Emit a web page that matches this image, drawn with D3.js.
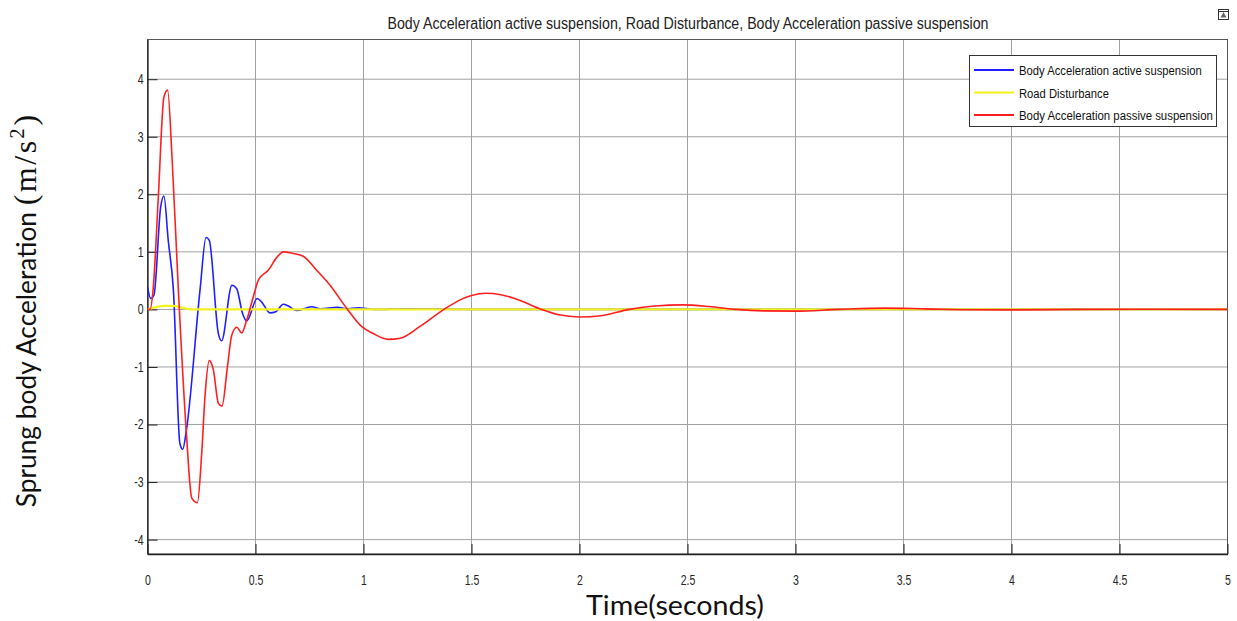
<!DOCTYPE html>
<html><head><meta charset="utf-8">
<script src="https://cdn.jsdelivr.net/npm/d3@7"></script>
<style>
body{margin:0;background:#fff;}
.narrow{font-family:"Liberation Sans",Arial,sans-serif;}
</style></head>
<body>
<svg id="chart" width="1237" height="621"></svg>
<script>
// ---- data ----
const titleText = "Body Acceleration active suspension, Road Disturbance, Body Acceleration passive suspension";
const seriesNames = ["Body Acceleration active suspension","Road Disturbance","Body Acceleration passive suspension"];
const seriesColors = ["#1f1fff","#f2f21e","#ff1f1f"];
const xTicks = [0,0.5,1,1.5,2,2.5,3,3.5,4,4.5,5];
const xTickLabels = ["0","0.5","1","1.5","2","2.5","3","3.5","4","4.5","5"];
const yTicks = [-4,-3,-2,-1,0,1,2,3,4];
const yTickLabels = ["-4","-3","-2","-1","0","1","2","3","4"];

const activeT = [0,0.015,0.03,0.061,0.076,0.096,0.12,0.15,0.163,0.18,0.243,0.271,0.286,0.328,0.343,0.391,0.413,0.44,0.459,0.508,0.528,0.567,0.594,0.629,0.652,0.69,0.76,0.8,0.88,0.92,0.976,1.05,1.2,1.5,2,3,4,5];
const activeY = [0.39,0.19,0.25,1.78,1.97,1.2,0.33,-2.33,-2.43,-2.1,0.33,1.25,1.2,-0.42,-0.545,0.42,0.36,-0.07,-0.2,0.19,0.13,-0.06,-0.04,0.09,0.06,-0.02,0.045,0.01,0.035,0.01,0.03,0.0,0.01,0,0,0,0,0];

const roadT = [0,0.04,0.08,0.12,0.16,0.2,0.3,1,2,3,4,5];
const roadY = [0,0.04,0.06,0.06,0.03,0,0,0,0,0,0,0];

const passiveT = [0,0.012,0.027,0.05,0.076,0.093,0.115,0.143,0.18,0.205,0.231,0.251,0.266,0.286,0.305,0.328,0.345,0.37,0.39,0.413,0.436,0.459,0.498,0.513,0.559,0.598,0.629,0.675,0.721,0.783,0.845,0.922,0.992,1.045,1.115,1.17,1.26,1.373,1.45,1.5,1.567,1.63,1.7,1.824,1.9,2.0,2.1,2.23,2.35,2.478,2.6,2.725,2.85,3.0,3.2,3.415,3.6,3.8,4.0,4.3,4.6,5];
const passiveY = [0,0,0.39,1.95,3.69,3.81,2.53,0.33,-2.15,-3.28,-3.36,-2.5,-1.52,-0.89,-1.05,-1.63,-1.68,-1.0,-0.45,-0.31,-0.41,-0.19,0.33,0.51,0.68,0.9,1.0,0.97,0.925,0.68,0.42,0.02,-0.3,-0.42,-0.52,-0.5,-0.3,0,0.17,0.24,0.28,0.26,0.19,0,-0.09,-0.133,-0.11,0,0.06,0.078,0.05,0,-0.025,-0.03,0,0.022,0.01,-0.005,-0.008,0,0.003,0];

// ---- helpers ----
function squeeze(sel, factor){
  sel.each(function(){
    const w = this.getComputedTextLength();
    d3.select(this).attr("textLength", w*factor).attr("lengthAdjust","spacingAndGlyphs");
  });
}
function fitTo(sel, width){
  sel.attr("textLength", width).attr("lengthAdjust","spacingAndGlyphs");
}

// ---- layout ----
const L = 147.5, R = 1227.5, T = 39.5, B = 554;
const svg = d3.select("#chart");
const x = d3.scaleLinear().domain([0,5]).range([L,R]);
const y = d3.scaleLinear().domain([-4.25,4.69]).range([B,T]);

// grid
const grid = svg.append("g");
grid.selectAll("line.v").data(xTicks).join("line")
  .attr("x1",d=>x(d)).attr("x2",d=>x(d)).attr("y1",T).attr("y2",B)
  .attr("stroke","#a0a0a0").attr("stroke-width",1);
grid.selectAll("line.h").data(yTicks).join("line")
  .attr("x1",L).attr("x2",R).attr("y1",d=>y(d)).attr("y2",d=>y(d))
  .attr("stroke","#a0a0a0").attr("stroke-width",1);

// frame
svg.append("rect").attr("x",L).attr("y",T).attr("width",R-L).attr("height",B-T)
  .attr("fill","none").attr("stroke","#555").attr("stroke-width",1);

// axes
const xAxis = d3.axisBottom(x).tickValues(xTicks).tickFormat((d,i)=>xTickLabels[i]).tickSizeInner(-10).tickSizeOuter(0).tickPadding(21);
const gx = svg.append("g").attr("transform",`translate(0,${B})`).call(xAxis);
const yAxis = d3.axisLeft(y).tickValues(yTicks).tickFormat((d,i)=>yTickLabels[i]).tickSizeInner(-10).tickSizeOuter(0).tickPadding(4);
const gy = svg.append("g").attr("transform",`translate(${L},0)`).call(yAxis);
[gx,gy].forEach(g=>{
  g.select(".domain").attr("stroke","#222").attr("stroke-width",1.3);
  g.selectAll(".tick line").attr("stroke","#222");
  g.selectAll(".tick text").attr("class","narrow").attr("font-size",14).attr("fill","#262626");
  squeeze(g.selectAll(".tick text"), 0.75);
});

// lines
svg.append("clipPath").attr("id","clip").append("rect").attr("x",L).attr("y",T).attr("width",R-L).attr("height",B-T);
const line = d3.line().x(d=>x(d[0])).y(d=>y(d[1])).curve(d3.curveMonotoneX);
const series = [
  d3.zip(activeT,activeY),
  d3.zip(roadT,roadY),
  d3.zip(passiveT,passiveY)
];
const widths = [1.6,2.2,1.6];
const lg = svg.append("g").attr("clip-path","url(#clip)");
series.forEach((s,i)=>{
  lg.append("path").datum(s).attr("d",line).attr("fill","none")
    .attr("stroke",seriesColors[i]).attr("stroke-width",widths[i]).attr("stroke-linejoin","round");
});

// title
const title = svg.append("text").attr("class","narrow").attr("x",688).attr("y",29)
  .attr("text-anchor","middle").attr("font-size",16).attr("fill","#222").text(titleText);
fitTo(title, 601);

// axis labels
const xl = svg.append("text").attr("x",675).attr("y",615).attr("text-anchor","middle")
  .attr("font-family","Lato, 'Open Sans', sans-serif").attr("font-size",26).attr("fill","#111").text("Time(seconds)");
fitTo(xl, 178);
const yl = svg.append("text").attr("transform","translate(36,311) rotate(-90)").attr("text-anchor","middle")
  .attr("font-family","Lato, 'Open Sans', sans-serif").attr("font-size",26.3).attr("fill","#111");
yl.append("tspan").text("Sprung body Acceleration ");
yl.append("tspan").attr("font-family","'Liberation Serif', serif").attr("font-size",32).attr("letter-spacing",2.5).text("(m/s");
yl.append("tspan").attr("font-family","'Liberation Serif', serif").attr("font-size",20).attr("dy",-12).attr("letter-spacing",3).text("2");
yl.append("tspan").attr("font-family","'Liberation Serif', serif").attr("font-size",32).attr("dy",12).text(")");

// legend
const leg = svg.append("g");
leg.append("rect").attr("x",969.5).attr("y",55.5).attr("width",247).attr("height",71)
  .attr("fill","#fff").attr("stroke","#333").attr("stroke-width",1);
const rowY = [70,92.5,115];
const legWidths = [183,90,194];
seriesNames.forEach((n,i)=>{
  leg.append("line").attr("x1",974).attr("x2",1014).attr("y1",rowY[i]).attr("y2",rowY[i])
    .attr("stroke",seriesColors[i]).attr("stroke-width",1.8);
  const t = leg.append("text").attr("class","narrow").attr("x",0).attr("y",0)
    .attr("font-size",13.5).attr("fill","#111").text(n);
  const w = t.node().getComputedTextLength();
  t.attr("transform",`translate(1019,${rowY[i]+5}) scale(${legWidths[i]/w},1)`);
});

// small icon top right
const ic = svg.append("g").attr("transform","translate(1218,9)");
ic.append("rect").attr("x",0.5).attr("y",0.5).attr("width",10).attr("height",10).attr("fill","#fff").attr("stroke","#333");
ic.append("path").attr("d","M2.5,8.5 L5.5,3 L8.5,8.5 Z").attr("fill","#666");
ic.append("line").attr("x1",0.5).attr("x2",10.5).attr("y1",2.5).attr("y2",2.5).attr("stroke","#333");
</script>
</body></html>
